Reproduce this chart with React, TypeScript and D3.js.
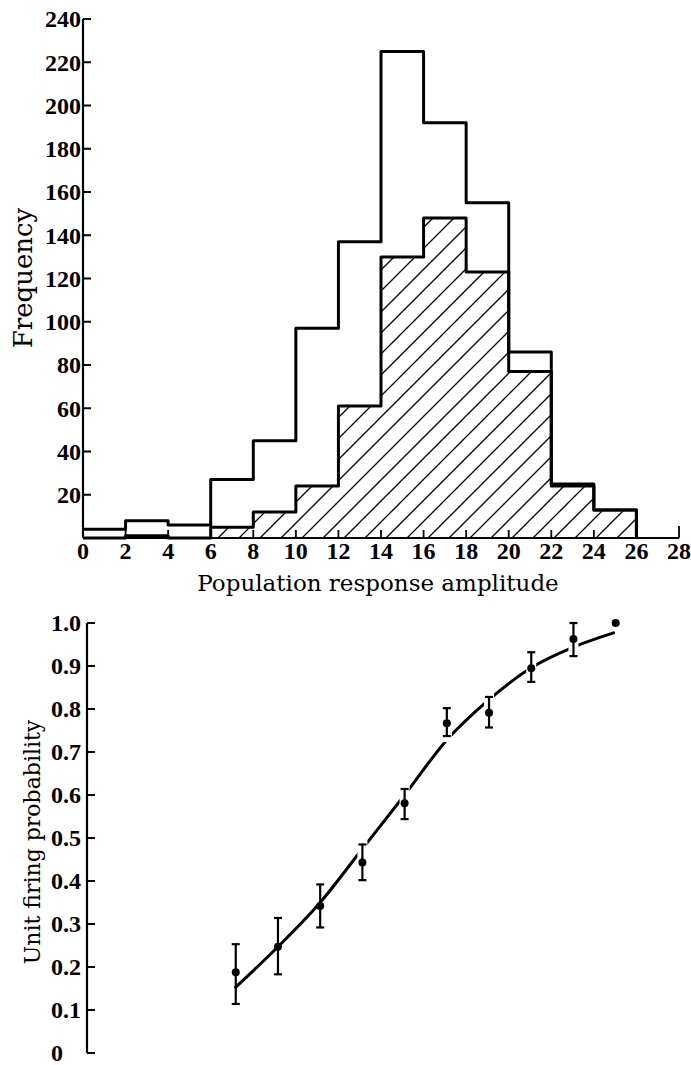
import React from "react";
import * as d3 from "d3";

// ---- Histogram data (bins of width 2) ----
const binEdges = [0, 2, 4, 6, 8, 10, 12, 14, 16, 18, 20, 22, 24, 26];
const allCounts = [4, 8, 6, 27, 45, 97, 137, 225, 192, 155, 86, 25, 13];
const firedCounts = [0, 1, 0, 5, 12, 24, 61, 130, 148, 123, 77, 24, 13];
const xTicksTop = [0, 2, 4, 6, 8, 10, 12, 14, 16, 18, 20, 22, 24, 26, 28];
const yTicksTop = [20, 40, 60, 80, 100, 120, 140, 160, 180, 200, 220, 240];

// ---- Firing probability data ----
const ampPoints = [7, 9, 11, 13, 15, 17, 19, 21, 23, 25];
const probValues = [0.188, 0.247, 0.342, 0.443, 0.581, 0.767, 0.791, 0.895, 0.963, 1.0];
const probLow = [0.114, 0.183, 0.292, 0.402, 0.544, 0.737, 0.757, 0.863, 0.923, null];
const probHigh = [0.253, 0.314, 0.392, 0.485, 0.614, 0.802, 0.828, 0.932, 1.0, null];
const fitAmp = [7, 9, 11, 13, 15, 17, 19, 21, 23, 24.9];
const fitProb = [0.153, 0.247, 0.35, 0.475, 0.6, 0.728, 0.822, 0.896, 0.944, 0.977];
const yTicksBottom = [0, 0.1, 0.2, 0.3, 0.4, 0.5, 0.6, 0.7, 0.8, 0.9, 1.0];

const tickFont = "'Liberation Serif', serif";
const titleFont = "'DejaVu Serif', serif";

export default function App() {
  // top scales
  const xTop = d3.scaleLinear().domain([0, 28]).range([83, 679]);
  const yTop = d3.scaleLinear().domain([0, 240]).range([538, 19]);
  // bottom scales
  const xBot = d3.scaleLinear().domain([0, 28]).range([88, 679]);
  const yBot = d3.scaleLinear().domain([0, 1]).range([1053, 623]);

  const stepPts = (vals: number[]) => {
    const pts: [number, number][] = vals.map((v, i) => [binEdges[i], v]);
    pts.push([binEdges[binEdges.length - 1], vals[vals.length - 1]]);
    pts.push([binEdges[binEdges.length - 1], 0]);
    return pts;
  };

  const stepLine = d3
    .line<[number, number]>()
    .x((d) => xTop(d[0]))
    .y((d) => yTop(d[1]))
    .curve(d3.curveStepAfter);

  const firedArea = d3
    .area<[number, number]>()
    .x((d) => xTop(d[0]))
    .y0(yTop(0))
    .y1((d) => yTop(d[1]))
    .curve(d3.curveStepAfter);

  const firedPts = stepPts(firedCounts);
  const allPts = stepPts(allCounts);

  const fitLine = d3
    .line<number>()
    .x((_, i) => xBot(fitAmp[i]))
    .y((d) => yBot(d))
    .curve(d3.curveMonotoneX);

  return (
    <svg
      width={691}
      height={1065}
      style={{ position: "absolute", left: 0, top: 0, background: "#fff" }}
    >
      <defs>
        <pattern id="hatch" patternUnits="userSpaceOnUse" width={21} height={21}>
          <path
            d="M0,21 L21,0 M-6,6 L6,-6 M15,27 L27,15"
            stroke="#000"
            strokeWidth={1.3}
          />
        </pattern>
        <mask id="fitMask" maskUnits="userSpaceOnUse" x={0} y={0} width={691} height={1065}>
          <rect x={0} y={0} width={691} height={1065} fill="#fff" />
          {ampPoints.map((a, i) =>
            probLow[i] !== null && i > 2 ? (
              <rect
                key={i}
                x={xBot(a) - 5}
                y={yBot(probHigh[i] as number) - 6}
                width={10}
                height={yBot(probLow[i] as number) - yBot(probHigh[i] as number) + 12}
                fill="#000"
              />
            ) : null
          )}
        </mask>
      </defs>

      {/* ===== Top histogram ===== */}
      <path d={firedArea(firedPts) || ""} fill="url(#hatch)" stroke="none" />
      <path
        d={stepLine(allPts) || ""}
        fill="none"
        stroke="#000"
        strokeWidth={3}
        strokeLinejoin="round"
      />
      <path
        d={stepLine(firedPts) || ""}
        fill="none"
        stroke="#000"
        strokeWidth={3}
        strokeLinejoin="round"
      />

      {/* y axis */}
      <line x1={xTop(0)} x2={xTop(0)} y1={yTop(240)} y2={yTop(0)} stroke="#000" strokeWidth={2.2} />
      {yTicksTop.map((t) => (
        <g key={t}>
          <line x1={xTop(0)} x2={xTop(0) + 8} y1={yTop(t)} y2={yTop(t)} stroke="#000" strokeWidth={2} />
          <text
            x={xTop(0) - 2}
            y={yTop(t)}
            dy="0.35em"
            textAnchor="end"
            fontFamily={tickFont}
            fontWeight="bold"
            fontSize={24}
          >
            {t}
          </text>
        </g>
      ))}

      {/* x axis */}
      <line x1={xTop(0)} x2={xTop(28)} y1={yTop(0)} y2={yTop(0)} stroke="#000" strokeWidth={2.2} />
      {xTicksTop.map((t) => (
        <g key={t}>
          {t > 0 && (
            <line
              x1={xTop(t)}
              x2={xTop(t)}
              y1={yTop(0)}
              y2={yTop(0) - (t === 28 ? 12 : 8)}
              stroke="#000"
              strokeWidth={1.8}
            />
          )}
          <text
            x={xTop(t)}
            y={559}
            textAnchor="middle"
            fontFamily={tickFont}
            fontWeight="bold"
            fontSize={24}
          >
            {t}
          </text>
        </g>
      ))}

      <text x={378} y={591} textAnchor="middle" fontFamily={titleFont} fontSize={23}>
        Population response amplitude
      </text>
      <text
        transform="translate(32,278) rotate(-90)"
        textAnchor="middle"
        fontFamily={titleFont}
        fontSize={26}
      >
        Frequency
      </text>

      {/* ===== Bottom chart ===== */}
      <line x1={87} x2={87} y1={yBot(1)} y2={yBot(0)} stroke="#000" strokeWidth={2.2} />
      {yTicksBottom.map((t) => (
        <g key={t}>
          <line x1={87} x2={95} y1={yBot(t)} y2={yBot(t)} stroke="#000" strokeWidth={2} />
          <text
            x={51}
            y={yBot(t)}
            dy="0.35em"
            textAnchor="start"
            fontFamily={tickFont}
            fontWeight="bold"
            fontSize={24}
          >
            {t === 0 ? "0" : t.toFixed(1)}
          </text>
        </g>
      ))}
      <text
        transform="translate(40,842) rotate(-90)"
        textAnchor="middle"
        fontFamily={titleFont}
        fontSize={22}
      >
        Unit firing probability
      </text>

      <path
        d={fitLine(fitProb) || ""}
        fill="none"
        stroke="#000"
        strokeWidth={3}
        strokeLinecap="round"
        mask="url(#fitMask)"
      />

      {ampPoints.map((a, i) => (
        <g key={a}>
          {probLow[i] !== null && (
            <g stroke="#000" strokeWidth={2.2}>
              <line
                x1={xBot(a)}
                x2={xBot(a)}
                y1={yBot(probLow[i] as number)}
                y2={yBot(probHigh[i] as number)}
              />
              <line
                x1={xBot(a) - 4}
                x2={xBot(a) + 4}
                y1={yBot(probLow[i] as number)}
                y2={yBot(probLow[i] as number)}
              />
              <line
                x1={xBot(a) - 4}
                x2={xBot(a) + 4}
                y1={yBot(probHigh[i] as number)}
                y2={yBot(probHigh[i] as number)}
              />
            </g>
          )}
          <circle cx={xBot(a)} cy={yBot(probValues[i])} r={4} fill="#000" />
        </g>
      ))}
    </svg>
  );
}
